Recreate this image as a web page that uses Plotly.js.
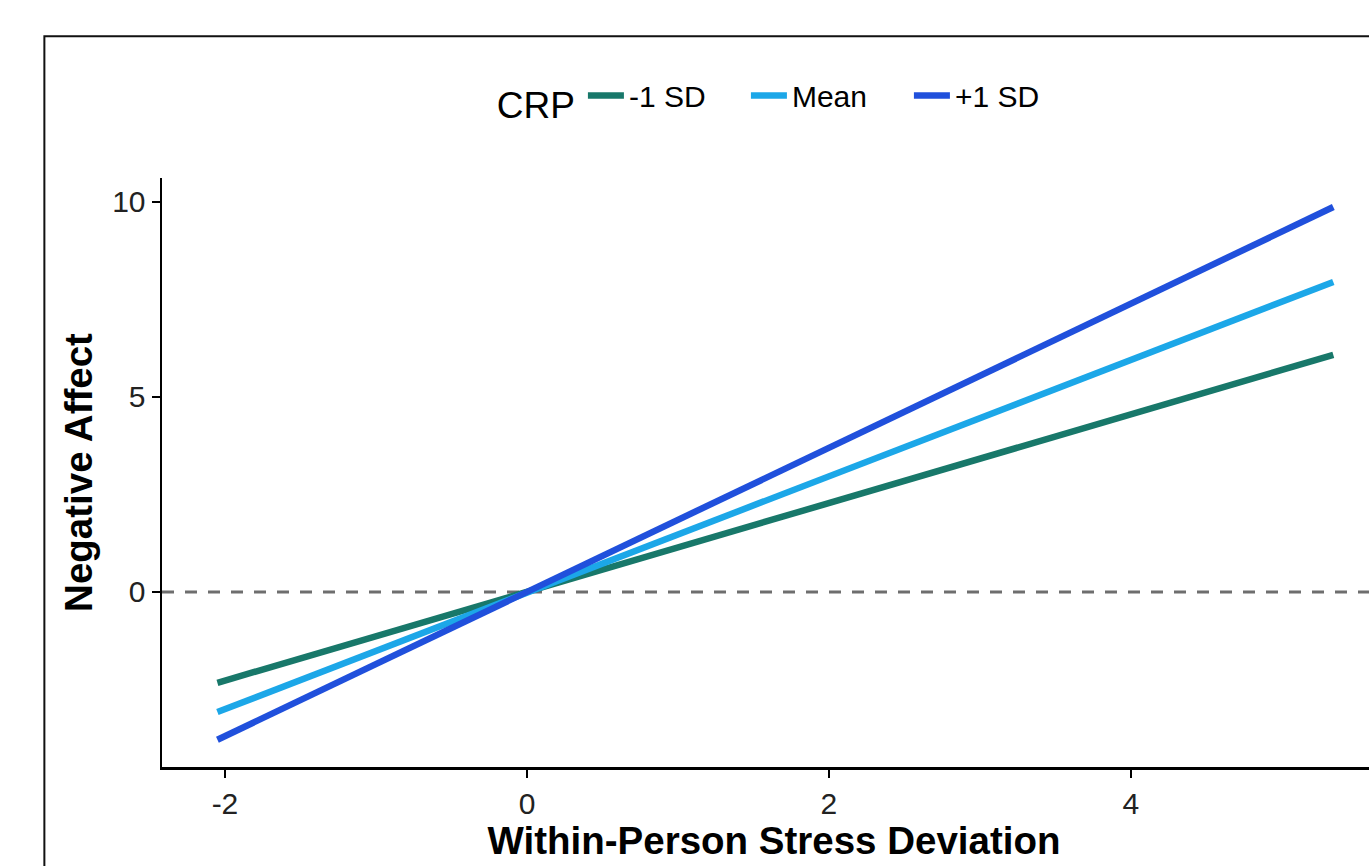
<!DOCTYPE html>
<html>
<head>
<meta charset="utf-8">
<script src="https://cdn.plot.ly/plotly-3.0.1.min.js"></script>
<style>
html,body{margin:0;padding:0;overflow:hidden;background:#fff;}
#chart{width:1386px;height:866px;}
</style>
</head>
<body>
<div id="chart"></div>
<script>
// Data
const stressX = [-2.05, 5.34];
const lowCRP = [-2.33, 6.08];
const meanCRP = [-3.08, 7.95];
const highCRP = [-3.79, 9.87];
const seriesNames = ["-1 SD", "Mean", "+1 SD"];
const seriesColors = ["#18786a", "#1ca7e8", "#2050dc"];
const xTicks = [-2, 0, 2, 4];
const yTicks = [0, 5, 10];

const FONT = "Liberation Sans, Arial, Helvetica, sans-serif";
const ys = [lowCRP, meanCRP, highCRP];
const traces = ys.map((y, i) => ({
  type: "scatter",
  mode: "lines",
  x: stressX,
  y: y,
  name: seriesNames[i],
  line: {color: seriesColors[i], width: 6.5}
}));

const layout = {
  width: 1386,
  height: 866,
  margin: {l: 162, r: 0, t: 178, b: 99, pad: 0},
  paper_bgcolor: "#fff",
  plot_bgcolor: "#fff",
  font: {family: FONT, color: "#1a1a1a", size: 30},
  showlegend: true,
  legend: {
    orientation: "h",
    x: 0.508, xanchor: "center",
    y: 1.134, yanchor: "middle",
    title: {text: "CRP", side: "left", font: {size: 37, family: FONT, color: "#000"}},
    font: {size: 30, family: FONT, color: "#000"},
    itemwidth: 36,
    entrywidth: 112,
    bgcolor: "rgba(0,0,0,0)"
  },
  xaxis: {
    range: [-2.417, 5.689],
    tickvals: xTicks,
    ticktext: xTicks.map(String),
    ticks: "outside", ticklen: 8, tickwidth: 2, tickcolor: "#000",
    showline: true, linecolor: "#000", linewidth: 2.5,
    showgrid: false, zeroline: false,
    tickfont: {size: 30, family: FONT, color: "#222"},
    title: {text: "<b>Within-Person Stress Deviation</b>", font: {size: 38.5, family: FONT, color: "#000"}, standoff: 2},
    automargin: false
  },
  yaxis: {
    range: [-4.49, 10.615],
    tickvals: yTicks,
    ticktext: yTicks.map(String),
    ticks: "outside", ticklen: 8, tickwidth: 2, tickcolor: "#000",
    showline: true, linecolor: "#000", linewidth: 2.5,
    showgrid: false, zeroline: false,
    tickfont: {size: 30, family: FONT, color: "#222"},
    title: {text: "<b>Negative Affect</b>", font: {size: 38.5, family: FONT, color: "#000"}, standoff: 8},
    automargin: false
  },
  shapes: [
    {type: "line", xref: "paper", yref: "y", x0: 0, x1: 1, y0: 0, y1: 0,
     line: {color: "#6e6e6e", width: 3, dash: "12px,11px"}, layer: "below"},
    {type: "rect", xref: "paper", yref: "paper", x0: -0.0961, x1: 1.2, y0: -0.5, y1: 1.2407,
     line: {color: "#111", width: 2}, fillcolor: "rgba(0,0,0,0)"}
  ]
};

Plotly.newPlot("chart", traces, layout, {displayModeBar: false, staticPlot: true});
</script>
</body>
</html>
